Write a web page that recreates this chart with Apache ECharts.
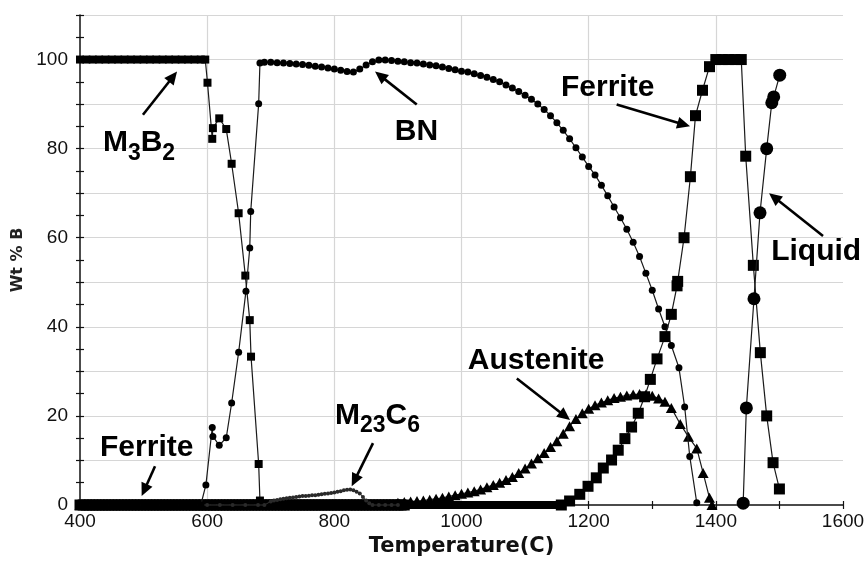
<!DOCTYPE html>
<html>
<head>
<meta charset="utf-8">
<script src="https://cdn.jsdelivr.net/npm/echarts@6/dist/echarts.min.js"></script>
<style>
  html, body { margin: 0; padding: 0; background: #fff; }
  #chart { width: 868px; height: 562px; }
</style>
</head>
<body>
<div id="chart"></div>
<script>
// Phase fractions of boron (Wt % B) versus temperature, one array of [T, wt%] per phase.
const m3b2Data = [
  [400,100],[410,100],[420,100],[430,100],[440,100],[450,100],[460,100],[470,100],[480,100],[490,100],
  [500,100],[510,100],[520,100],[530,100],[540,100],[550,100],[560,100],[570,100],[580,100],[590,100],
  [597,100],[600.5,94.8],[608,82.2],[609,84.6],[619,86.8],[630,84.4],[638.5,76.6],[649.5,65.5],
  [660,51.5],[667,41.5],[669,33.3],[681,9.2],[683,1.0],
  [690,0],[700,0],[710,0],[720,0],[730,0],[740,0],[750,0],[760,0],[770,0],[780,0],[790,0],
  [800,0],[810,0],[820,0],[830,0],[840,0],[850,0],[860,0],[870,0],[880,0],[890,0],[900,0],
  [910,0],[920,0],[930,0],[940,0],[950,0],[960,0],[970,0],[980,0],[990,0],[1000,0],
  [1010,0],[1020,0],[1030,0],[1040,0],[1050,0],[1060,0],[1070,0],[1080,0],[1090,0],[1100,0],
  [1110,0],[1120,0],[1130,0],[1140,0],[1150,0]
];

const bnData = [
  [400,0],[410,0],[420,0],[430,0],[440,0],[450,0],[460,0],[470,0],[480,0],[490,0],
  [500,0],[510,0],[520,0],[530,0],[540,0],[550,0],[560,0],[570,0],[580,0],[590,0],
  [598,4.5],[608,17.4],[609,15.4],[619,13.4],[630,15.1],[638.5,22.9],[649.5,34.3],
  [661,48.0],[667,57.7],[668.5,65.9],[681,90.1],[683,99.2],
  [690,99.4],[700,99.4],[710,99.3],[720,99.2],[730,99.1],[740,99.0],[750,98.9],[760,98.7],
  [770,98.5],[780,98.3],[790,98.1],[800,97.9],[810,97.6],[820,97.3],[830,97.2],[840,97.9],
  [850,98.8],[860,99.5],[870,99.9],[880,99.9],[890,99.8],[900,99.6],[910,99.5],[920,99.3],
  [930,99.2],[940,99.0],[950,98.8],[960,98.6],[970,98.3],[980,98.0],[990,97.7],[1000,97.4],
  [1010,97.2],[1020,96.8],[1030,96.4],[1040,96.0],[1050,95.5],[1060,95.0],[1070,94.3],
  [1080,93.6],[1090,92.8],[1100,92.0],[1110,91.1],[1120,90.0],[1130,88.8],[1140,87.4],
  [1150,85.8],[1160,84.1],[1170,82.2],[1180,80.2],[1190,78.1],[1200,76.0],[1210,74.1],
  [1220,71.8],[1230,69.4],[1240,66.9],[1250,64.5],[1260,61.9],[1270,59.0],[1280,55.8],
  [1290,52.0],[1300,48.2],[1310,44.0],[1320,40.0],[1330,35.8],[1342,30.8],[1351,22.0],
  [1359,10.9],[1370,0.5]
];

const m23c6Data = [
  [400,0],[420,0],[440,0],[460,0],[480,0],[500,0],[520,0],[540,0],[560,0],[580,0],
  [600,0],[620,0],[640,0],[660,0],[680,0],[690,0],
  [700,0.8],[705,1.0],[710,1.1],[715,1.3],[720,1.4],[725,1.5],[730,1.6],[735,1.7],[740,1.8],
  [745,1.9],[750,2.0],[755,2.0],[760,2.1],[765,2.2],[770,2.2],[775,2.3],[780,2.4],[785,2.5],
  [790,2.6],[795,2.7],[800,2.8],[805,3.0],[810,3.1],[815,3.3],[820,3.4],[825,3.5],[830,3.3],
  [835,3.0],[840,2.6],[845,1.8],[850,1.0],[855,0.4],
  [860,0],[870,0],[880,0],[890,0],[900,0]
];

const austeniteData = [
  [400,0],[410,0],[420,0],[430,0],[440,0],[450,0],[460,0],[470,0],[480,0],[490,0],
  [500,0],[510,0],[520,0],[530,0],[540,0],[550,0],[560,0],[570,0],[580,0],[590,0],
  [600,0],[610,0],[620,0],[630,0],[640,0],[650,0],[660,0],[670,0],[680,0],[690,0],
  [700,0],[710,0],[720,0],[730,0],[740,0],[750,0],[760,0],[770,0],[780,0],[790,0],
  [800,0],[810,0],[820,0],[830,0],[840,0],[850,0],[860,0],[870,0],[880,0],[890,0],
  [900,0.5],[910,0.7],[920,0.8],[930,0.9],[940,1.0],[950,1.2],[960,1.4],[970,1.6],
  [980,1.9],[990,2.2],[1000,2.5],[1010,2.8],[1020,3.1],[1030,3.5],[1040,4.0],[1050,4.5],
  [1060,5.0],[1070,5.6],[1080,6.3],[1090,7.2],[1100,8.2],[1110,9.3],[1120,10.5],[1130,11.7],
  [1140,13.0],[1150,14.3],[1160,16.0],[1170,17.7],[1180,19.3],[1190,20.6],[1200,21.6],
  [1210,22.4],[1220,23.0],[1230,23.5],[1240,24.0],[1250,24.3],[1260,24.6],[1270,24.8],
  [1280,24.9],[1290,24.8],[1300,24.5],[1310,23.9],[1320,23.2],[1330,21.8],[1344,18.2],
  [1357,15.3],[1370,12.7],[1380,7.2],[1390,1.6],[1394,0]
];

// Low-temperature ferrite (flat at zero) and high-temperature delta ferrite.
const ferriteLowData = [
  [400,0],[405,0],[410,0],[415,0],[420,0],[425,0],[430,0],[435,0],[440,0],[445,0],
  [450,0],[455,0],[460,0],[465,0],[470,0],[475,0],[480,0],[485,0],[490,0],[495,0],
  [500,0],[505,0],[510,0],[515,0],[520,0],[525,0],[530,0],[535,0],[540,0],[545,0],
  [550,0],[555,0],[560,0],[565,0],[570,0],[575,0],[580,0],[585,0],[590,0],[595,0],
  [600,0],[605,0],[610,0],[615,0],[620,0],[625,0],[630,0],[635,0],[640,0],[645,0],
  [650,0],[655,0],[660,0],[665,0],[670,0],[675,0],[680,0],[685,0],[690,0],[695,0],
  [700,0],[705,0],[710,0],[715,0],[720,0],[725,0],[730,0],[735,0],[740,0],[745,0],
  [750,0],[755,0],[760,0],[765,0],[770,0],[775,0],[780,0],[785,0],[790,0],[795,0],
  [800,0],[805,0],[810,0],[815,0],[820,0],[825,0],[830,0],[835,0],[840,0],[845,0],
  [850,0],[855,0],[860,0],[865,0],[870,0],[875,0],[880,0],[885,0],[890,0],[895,0],
  [900,0],[905,0],[910,0]
];

const ferriteHighData = [
  [1157,0],[1170,0.9],[1186,2.4],[1199,4.2],[1212,6.1],[1223,8.3],[1236,10.1],[1246.5,12.3],
  [1257,14.9],[1267.5,17.5],[1278,20.6],[1288,24.3],[1297,28.2],[1307.5,32.8],[1320,37.8],
  [1330,42.8],[1339,49.2],[1340,50.2],[1350,60.0],[1360,73.7],[1368,87.4],[1379,93.1],
  [1390,98.4],[1400,100],[1410,100],[1420,100],[1430,100],[1440,100],
  [1447,78.3],[1459,53.8],[1470,34.2],[1480,20.0],[1490,9.5],[1500,3.6]
];

const liquidData = [
  [1443,0.4],[1448,21.8],[1460,46.3],[1469.5,65.6],[1480,80.0],[1488,90.3],[1491,91.6],[1500.5,96.5]
];

const yTickLabels = [0, 20, 40, 60, 80, 100];
const xTickLabels = [400, 600, 800, 1000, 1200, 1400, 1600];

// Phase names placed in data coordinates (baseline-left anchor), with subscripted parts.
const phaseLabels = [
  { at: [436, 78.9],   parts: [['M'], ['3', 1], ['B'], ['2', 1]] },
  { at: [895, 81.4],   parts: [['BN']] },
  { at: [1156.5, 91.4], parts: [['Ferrite']] },
  { at: [1487, 54.5],  parts: [['Liquid']] },
  { at: [1010, 30.0],  parts: [['Austenite']] },
  { at: [431.5, 10.5], parts: [['Ferrite']] },
  { at: [801, 17.7],   parts: [['M'], ['23', 1], ['C'], ['6', 1]] }
];

// Pointer arrows: [tail, head] in data coordinates.
const phaseArrows = [
  [[499, 87.6],   [552.6, 97.3]],
  [[929.6, 89.9], [864, 97.3]],
  [[1244, 89.9],  [1359.4, 85.0]],
  [[1568.6, 60.4],[1483.7, 70.0]],
  [[1087, 28.4],  [1170.7, 19.1]],
  [[518, 8.7],    [497, 2.0]],
  [[860.8, 13.9], [827.3, 4.2]]
];

const LINE_COLOR = '#1a1a1a';
const MARK_COLOR = '#000';

function phaseSeries(name, data, symbol, size, z, extra) {
  return Object.assign({
    name, type: 'line', data, symbol, symbolSize: size,
    xAxisIndex: 0, yAxisIndex: 0, z,
    clip: false, animation: false,
    lineStyle: { color: LINE_COLOR, width: 1.2 },
    itemStyle: { color: MARK_COLOR, borderColor: MARK_COLOR, borderWidth: 0 },
    emphasis: { disabled: true }
  }, extra || {});
}

const chart = echarts.init(document.getElementById('chart'), null, { renderer: 'canvas' });

const gridLine = { show: true, lineStyle: { color: '#d6d6d6', width: 1.2 } };
const labelFont = { fontFamily: '"Liberation Sans", Arial, sans-serif', fontSize: 19, color: '#111' };

chart.setOption({
  backgroundColor: '#fff',
  animation: false,
  grid: { left: 80, right: 25, top: 15, bottom: 55 },
  xAxis: [
    {
      type: 'value', min: 400, max: 1600, interval: 200, position: 'bottom',
      name: 'Temperature(C)', nameLocation: 'middle', nameGap: 31,
      nameTextStyle: { fontFamily: '"DejaVu Sans", Verdana, sans-serif', fontWeight: 'bold', fontSize: 21, color: '#111' },
      axisLine: { show: true, onZero: false, lineStyle: { color: '#111', width: 1.5 } },
      axisTick: { show: true, length: 4, lineStyle: { color: '#111', width: 1.2 } },
      minorTick: { show: true, splitNumber: 2, length: 4, lineStyle: { color: '#111', width: 1.2 } },
      axisLabel: Object.assign({ margin: 7, formatter: v => xTickLabels.includes(v) ? String(v) : '' }, labelFont),
      splitLine: Object.assign({ showMinLine: false, showMaxLine: false }, gridLine)
    },
    {
      type: 'value', min: 400, max: 1600, interval: 200, position: 'bottom',
      axisLine: { show: false },
      axisTick: { show: true, inside: true, length: 4, lineStyle: { color: '#111', width: 1.2 } },
      minorTick: { show: true, splitNumber: 2, length: 4, lineStyle: { color: '#111', width: 1.2 } },
      axisLabel: { show: false }, splitLine: { show: false }
    }
  ],
  yAxis: [
    {
      type: 'value', min: 0, max: 110, interval: 10, position: 'left',
      name: 'Wt % B', nameLocation: 'middle', nameGap: 45, nameRotate: 90,
      nameTextStyle: { fontFamily: '"DejaVu Sans", Verdana, sans-serif', fontWeight: 'bold', fontSize: 16, color: '#222' },
      axisLine: { show: true, onZero: false, lineStyle: { color: '#111', width: 1.5 } },
      axisTick: { show: true, length: 4, lineStyle: { color: '#111', width: 1.2 } },
      minorTick: { show: true, splitNumber: 2, length: 4, lineStyle: { color: '#111', width: 1.2 } },
      axisLabel: Object.assign({ margin: 12, formatter: v => yTickLabels.includes(v) ? String(v) : '' }, labelFont),
      splitLine: Object.assign({ showMinLine: false, showMaxLine: true }, gridLine)
    },
    {
      type: 'value', min: 0, max: 110, interval: 10, position: 'left',
      axisLine: { show: false },
      axisTick: { show: true, inside: true, length: 4, lineStyle: { color: '#111', width: 1.2 } },
      minorTick: { show: true, splitNumber: 2, length: 4, lineStyle: { color: '#111', width: 1.2 } },
      axisLabel: { show: false }, splitLine: { show: false }
    }
  ],
  series: [
    phaseSeries('Ferrite (low T)', ferriteLowData, 'rect', 11, 2),
    phaseSeries('Austenite', austeniteData, 'triangle', [11, 10], 4),
    phaseSeries('M3B2', m3b2Data, 'rect', 8, 5),
    phaseSeries('M23C6', m23c6Data, 'circle', 4, 6, {
      lineStyle: { color: '#333', width: 1 },
      itemStyle: { color: '#2a2a2a', borderWidth: 0 }
    }),
    phaseSeries('BN', bnData, 'circle', 7, 6),
    phaseSeries('Ferrite', ferriteHighData, 'rect', 11, 7),
    phaseSeries('Liquid', liquidData, 'circle', 13, 8)
  ]
});

// Overlay phase names and arrows once the axes exist.
const MAIN_SIZE = 30, SUB_SIZE = 23, SUB_DROP = 8;
const measureCtx = document.createElement('canvas').getContext('2d');
const fontOf = size => `bold ${size}px "Liberation Sans", Arial, sans-serif`;
const toPx = p => chart.convertToPixel({ xAxisIndex: 0, yAxisIndex: 0 }, p);

const overlay = [];
phaseLabels.forEach(lbl => {
  const p = toPx(lbl.at);
  let x = p[0];
  lbl.parts.forEach(([txt, sub]) => {
    const size = sub ? SUB_SIZE : MAIN_SIZE;
    const baseline = p[1] + (sub ? SUB_DROP : 0);
    measureCtx.font = fontOf(size);
    overlay.push({
      type: 'text', x, y: baseline - 0.35 * size, silent: true, z: 50,
      style: {
        text: txt, fill: '#000', align: 'left', verticalAlign: 'middle',
        fontFamily: '"Liberation Sans", Arial, sans-serif', fontWeight: 'bold', fontSize: size
      }
    });
    x += measureCtx.measureText(txt).width;
  });
});

phaseArrows.forEach(([tail, head]) => {
  const a = toPx(tail), b = toPx(head);
  const dx = b[0] - a[0], dy = b[1] - a[1];
  const len = Math.hypot(dx, dy), ux = dx / len, uy = dy / len;
  const headLen = 13, headHalf = 6;
  const bx = b[0] - ux * headLen, by = b[1] - uy * headLen;
  overlay.push({
    type: 'line', silent: true, z: 50,
    shape: { x1: a[0], y1: a[1], x2: bx + ux * 2, y2: by + uy * 2 },
    style: { stroke: '#000', lineWidth: 2.6 }
  });
  overlay.push({
    type: 'polygon', silent: true, z: 50,
    shape: { points: [[b[0], b[1]], [bx - uy * headHalf, by + ux * headHalf], [bx + uy * headHalf, by - ux * headHalf]] },
    style: { fill: '#000' }
  });
});

chart.setOption({ graphic: overlay });
</script>
</body>
</html>
